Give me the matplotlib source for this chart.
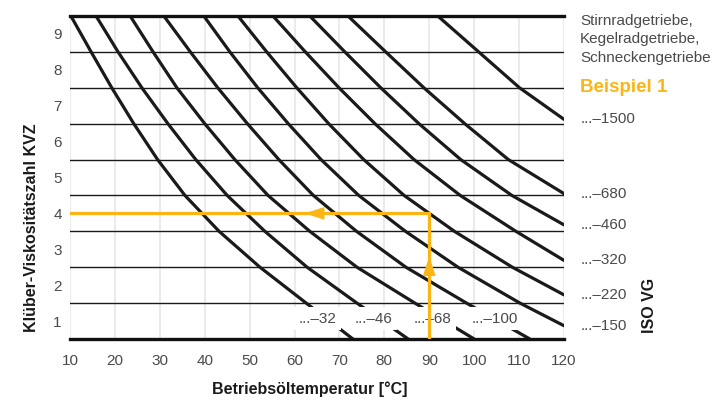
import numpy as np
import matplotlib
matplotlib.use("Agg")
import matplotlib.pyplot as plt

plt.rcParams['font.family'] = ['Liberation Sans', 'DejaVu Sans']

# temperature (°C) for each ISO VG curve, at the KVZ values in the matching list
kvz_full = [9.5, 8.5, 7.5, 6.5, 5.5, 4.5, 3.5, 2.5, 1.5, 0.5]
vg32_t = [10.2, 14.7, 19.3, 24.2, 29.5, 35.6, 43.2, 52.3, 62.6, 73.0]
vg46_t = [15.8, 20.7, 26.0, 31.8, 38.0, 45.0, 53.4, 62.8, 73.9, 85.3]
vg68_t = [23.4, 28.5, 33.8, 40.0, 46.7, 54.1, 63.4, 73.9, 86.8, 100.0]
vg100_t = [30.9, 36.8, 42.9, 49.5, 56.5, 64.2, 73.8, 84.8, 98.3, 112.4]

vg150_t = [39.8, 45.6, 51.8, 58.6, 65.9, 74.3, 84.7, 96.4, 110.2, 120.0]
vg150_k = [9.5, 8.5, 7.5, 6.5, 5.5, 4.5, 3.5, 2.5, 1.5, 0.87]
vg220_t = [47.4, 53.8, 60.5, 67.6, 75.4, 84.4, 95.6, 108.5, 120.0]
vg220_k = [9.5, 8.5, 7.5, 6.5, 5.5, 4.5, 3.5, 2.5, 1.73]
vg320_t = [55.2, 62.4, 69.9, 77.9, 86.6, 96.9, 109.3, 120.0]
vg320_k = [9.5, 8.5, 7.5, 6.5, 5.5, 4.5, 3.5, 2.69]
vg460_t = [63.4, 71.2, 79.2, 87.7, 97.0, 108.4, 120.0]
vg460_k = [9.5, 8.5, 7.5, 6.5, 5.5, 4.5, 3.68]
vg680_t = [71.9, 80.3, 88.8, 97.9, 107.6, 120.0]
vg680_k = [9.5, 8.5, 7.5, 6.5, 5.5, 4.55]
vg1500_t = [91.9, 101.0, 110.1, 120.0]
vg1500_k = [9.5, 8.5, 7.5, 6.62]

bottom_labels = ["...\u201332", "...\u201346", "...\u201368", "...\u2013100"]
bottom_label_t = [65.2, 77.5, 90.8, 104.6]
right_labels = ["...\u20131500", "...\u2013680", "...\u2013460", "...\u2013320", "...\u2013220", "...\u2013150"]
right_label_k = [6.62, 4.55, 3.68, 2.69, 1.73, 0.87]

# Beispiel 1: 90 °C -> KVZ 4
example_t = 90
example_kvz = 4

orange = '#FDB515'
gray = '#4a4a4a'

fig = plt.figure(figsize=(7.16, 4.05), dpi=100)
ax = fig.add_axes([70/716, 1-339/405, 494/716, 323/405])
ax.set_xlim(10, 120)
ax.set_ylim(0.5, 9.5)

for t in range(10, 121, 10):
    ax.axvline(t, color='#ebebeb', lw=1.5, zorder=0)
for k in np.arange(1.5, 9.0, 1.0):
    ax.axhline(k, color='#1a1a1a', lw=1.0, zorder=1)

for temps in [vg32_t, vg46_t, vg68_t, vg100_t]:
    ax.plot(temps, kvz_full, color='#1a1a1a', lw=2.3, solid_capstyle='round',
            solid_joinstyle='round', zorder=2)
for temps, kv in [(vg150_t, vg150_k), (vg220_t, vg220_k), (vg320_t, vg320_k),
                  (vg460_t, vg460_k), (vg680_t, vg680_k), (vg1500_t, vg1500_k)]:
    ax.plot(temps, kv, color='#1a1a1a', lw=2.3, solid_capstyle='round',
            solid_joinstyle='round', zorder=2)

for lab, t in zip(bottom_labels, bottom_label_t):
    ax.text(t, 1.06, lab, ha='center', va='center', fontsize=11, color=gray, zorder=3,
            bbox=dict(boxstyle='square,pad=0.3', fc='white', ec='none'))

for lab, k in zip(right_labels, right_label_k):
    ax.text(123.6, k, lab, ha='left', va='center', fontsize=11, color=gray, clip_on=False)

ax.text(123.6, 8.85, "Stirnradgetriebe,\nKegelradgetriebe,\nSchneckengetriebe", ha='left', va='center',
        fontsize=11, color=gray, linespacing=1.42, clip_on=False)
ax.text(123.6, 7.51, "Beispiel 1", ha='left', va='center', fontsize=13.5, fontweight='bold',
        color=orange, clip_on=False)

# example path
ax.plot([example_t, example_t, 10], [0.5, example_kvz, example_kvz], color=orange, lw=2.3,
        solid_joinstyle='miter', zorder=4)
head = '-|>,head_length=1.0,head_width=0.33'
ax.annotate('', xy=(example_t, 2.8), xytext=(example_t, 2.0),
            arrowprops=dict(arrowstyle=head, color=orange, lw=1, mutation_scale=12,
                            shrinkA=0, shrinkB=0), zorder=5)
ax.annotate('', xy=(62.3, example_kvz), xytext=(68.0, example_kvz),
            arrowprops=dict(arrowstyle=head, color=orange, lw=1, mutation_scale=12,
                            shrinkA=0, shrinkB=0), zorder=5)

ax.spines['left'].set_visible(False)
ax.spines['right'].set_visible(False)
ax.spines['top'].set_linewidth(2.4)
ax.spines['bottom'].set_linewidth(2.4)
ax.spines['top'].set_color('#111111')
ax.spines['bottom'].set_color('#111111')

ax.set_xticks(range(10, 121, 10))
ax.set_yticks(range(1, 10))
ax.tick_params(length=0, labelsize=11, labelcolor=gray)
ax.tick_params(axis='x', pad=11)
ax.tick_params(axis='y', pad=6)

fig.text(310/716, 1-389/405, "Betriebsöltemperatur [°C]", ha='center', va='center',
         fontsize=11.5, fontweight='bold', color='#1a1a1a')
fig.text(32/716, 1-228/405, "Klüber-Viskositätszahl KVZ", ha='center', va='center', rotation=90,
         fontsize=11.5, fontweight='bold', color='#1a1a1a')
fig.text(650/716, 1-305/405, "ISO VG", ha='center', va='center', rotation=90,
         fontsize=11.5, fontweight='bold', color='#1a1a1a')

fig.savefig('out.png', dpi=100)
